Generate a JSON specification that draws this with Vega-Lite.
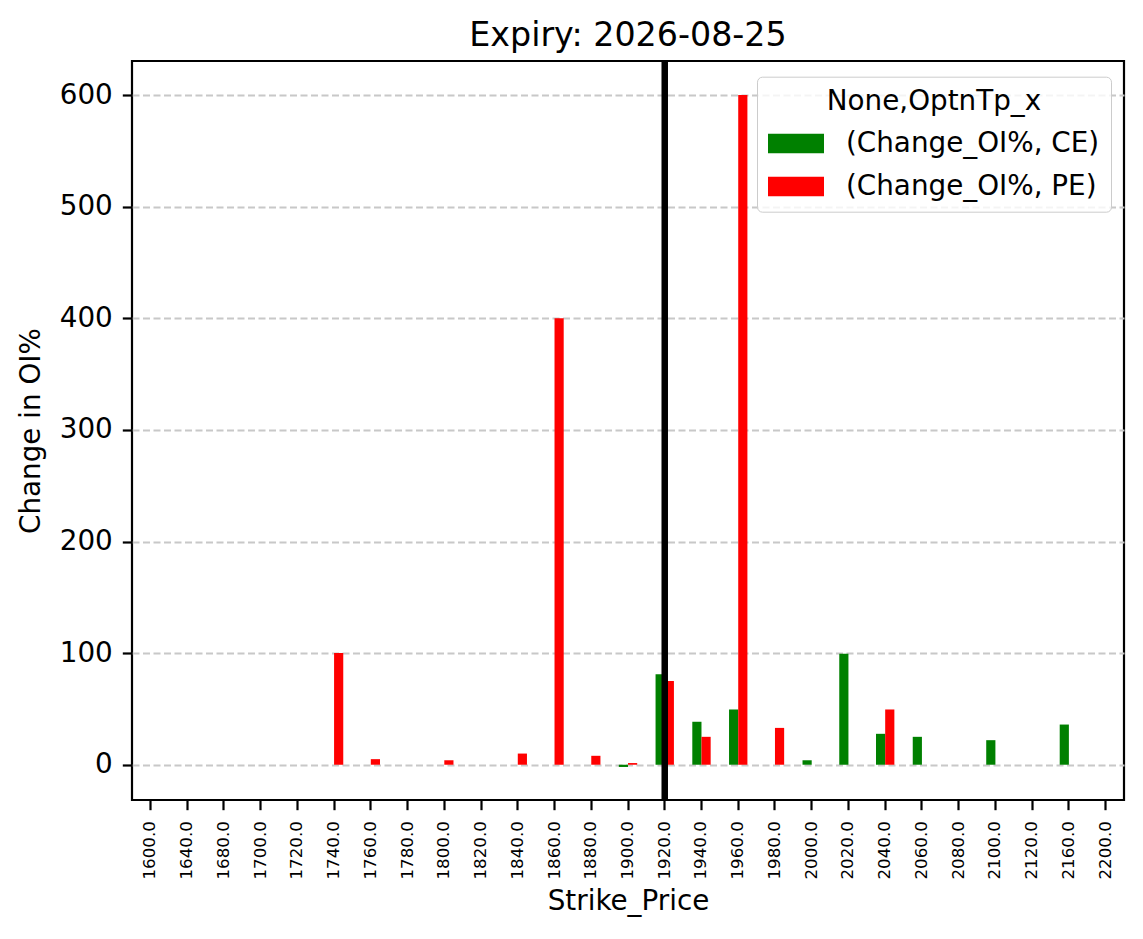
{
  "$schema": "https://vega.github.io/schema/vega-lite/v6.json",
  "autosize": {"type": "none"},
  "padding": {"left": 132, "top": 61, "right": 19, "bottom": 139},
  "width": 992,
  "height": 739,
  "background": "white",
  "config": {
    "font": "DejaVu Sans",
    "view": {"stroke": "black", "strokeWidth": 2.2},
    "axis": {
      "labelFont": "DejaVu Sans",
      "titleFont": "DejaVu Sans",
      "labelColor": "black",
      "titleColor": "black",
      "tickColor": "black",
      "tickWidth": 2.2,
      "tickSize": 9.7,
      "domain": false,
      "titleFontWeight": "normal",
      "titleFontSize": 27.8
    },
    "title": {"font": "DejaVu Sans", "fontSize": 33.3, "fontWeight": "normal", "color": "black", "anchor": "middle", "baseline": "alphabetic", "offset": 4}
  },
  "title": "Expiry: 2026-08-25",
  "layer": [
    {
      "data": {"values": [
        {"Strike_Price": "1900.0", "series": "(Change_OI%, CE)", "value": -2},
        {"Strike_Price": "1920.0", "series": "(Change_OI%, CE)", "value": 81},
        {"Strike_Price": "1940.0", "series": "(Change_OI%, CE)", "value": 38.5},
        {"Strike_Price": "1960.0", "series": "(Change_OI%, CE)", "value": 49.5},
        {"Strike_Price": "2000.0", "series": "(Change_OI%, CE)", "value": 4},
        {"Strike_Price": "2020.0", "series": "(Change_OI%, CE)", "value": 99.5},
        {"Strike_Price": "2040.0", "series": "(Change_OI%, CE)", "value": 27.7},
        {"Strike_Price": "2060.0", "series": "(Change_OI%, CE)", "value": 25},
        {"Strike_Price": "2100.0", "series": "(Change_OI%, CE)", "value": 22},
        {"Strike_Price": "2160.0", "series": "(Change_OI%, CE)", "value": 36},
        {"Strike_Price": "1740.0", "series": "(Change_OI%, PE)", "value": 100},
        {"Strike_Price": "1760.0", "series": "(Change_OI%, PE)", "value": 5},
        {"Strike_Price": "1800.0", "series": "(Change_OI%, PE)", "value": 4},
        {"Strike_Price": "1840.0", "series": "(Change_OI%, PE)", "value": 10},
        {"Strike_Price": "1860.0", "series": "(Change_OI%, PE)", "value": 400},
        {"Strike_Price": "1880.0", "series": "(Change_OI%, PE)", "value": 8},
        {"Strike_Price": "1900.0", "series": "(Change_OI%, PE)", "value": 1.5},
        {"Strike_Price": "1920.0", "series": "(Change_OI%, PE)", "value": 75},
        {"Strike_Price": "1940.0", "series": "(Change_OI%, PE)", "value": 25},
        {"Strike_Price": "1960.0", "series": "(Change_OI%, PE)", "value": 600},
        {"Strike_Price": "1980.0", "series": "(Change_OI%, PE)", "value": 33},
        {"Strike_Price": "2040.0", "series": "(Change_OI%, PE)", "value": 49.5}
      ]},
      "mark": {"type": "bar"},
      "encoding": {
        "x": {
          "field": "Strike_Price", "type": "nominal",
          "scale": {"domain": ["1600.0","1640.0","1680.0","1700.0","1720.0","1740.0","1760.0","1780.0","1800.0","1820.0","1840.0","1860.0","1880.0","1900.0","1920.0","1940.0","1960.0","1980.0","2000.0","2020.0","2040.0","2060.0","2080.0","2100.0","2120.0","2160.0","2200.0"], "paddingInner": 0, "paddingOuter": 0},
          "axis": {"title": "Strike_Price", "labelAngle": -90, "labelFontSize": 16.7, "labelPadding": 11, "titlePadding": 8, "grid": false}
        },
        "xOffset": {
          "field": "series", "type": "nominal",
          "scale": {"domain": ["(Change_OI%, CE)", "(Change_OI%, PE)"], "paddingInner": 0, "paddingOuter": 1}
        },
        "y": {
          "field": "value", "type": "quantitative",
          "scale": {"domain": [-31.6, 630.5], "nice": false, "zero": false},
          "axis": {"title": "Change in OI%", "values": [0,100,200,300,400,500,600], "labelFontSize": 27.8, "labelPadding": 10, "titlePadding": 14, "grid": true, "gridColor": "#c8c8c8", "gridDash": [7, 3.5], "gridWidth": 2.2}
        },
        "color": {
          "field": "series", "type": "nominal",
          "scale": {"domain": ["(Change_OI%, CE)", "(Change_OI%, PE)"], "range": ["#008000", "#ff0000"]},
          "legend": {
            "title": "None,OptnTp_x",
            "orient": "none", "legendX": 625, "legendY": 15.7,
            "titleFontSize": 27.8, "titleFontWeight": "normal", "titleColor": "black", "titleAnchor": "middle", "titleFont": "DejaVu Sans", "titleLimit": 0,
            "labelFontSize": 27.8, "labelColor": "black", "labelFont": "DejaVu Sans", "labelOffset": 22, "labelLimit": 0,
            "symbolType": "M-1,-0.35L1,-0.35L1,0.35L-1,0.35Z", "symbolSize": 3136, "symbolStrokeWidth": 0, "symbolOpacity": 1,
            "padding": 11, "strokeColor": "#cccccc", "fillColor": "rgba(255,255,255,0.8)", "cornerRadius": 5,
            "rowPadding": 1, "titlePadding": 0
          }
        }
      }
    },
    {
      "data": {"values": [{"Strike_Price": "1920.0"}]},
      "mark": {"type": "rule", "color": "black", "strokeWidth": 6.5},
      "encoding": {
        "x": {"field": "Strike_Price", "type": "nominal"}
      }
    }
  ]
}
